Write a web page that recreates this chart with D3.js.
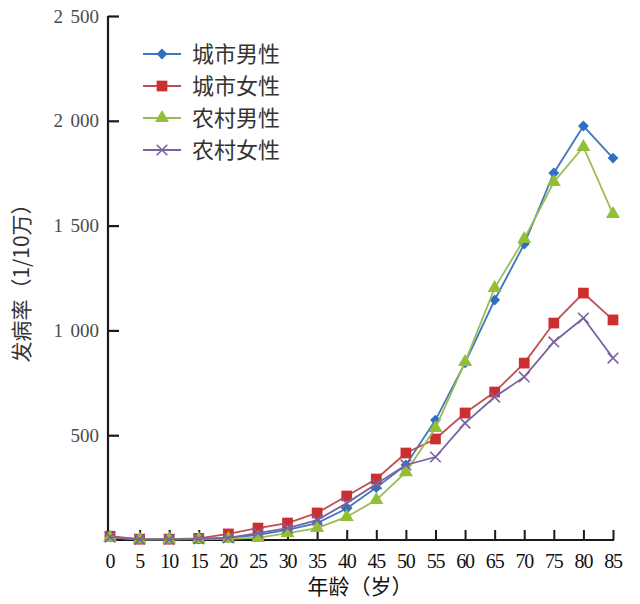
<!DOCTYPE html>
<html><head><meta charset="utf-8">
<script src="https://cdn.jsdelivr.net/npm/d3@7"></script>
<style>html,body{margin:0;padding:0;background:#fff;}</style>
</head><body><svg id="c" width="640" height="604"></svg>
<script>
const ages = [0,5,10,15,20,25,30,35,40,45,50,55,60,65,70,75,80,85];
const urbanMale   = [15,3,3,5,10,24,48,81,150,250,358,572,845,1145,1412,1751,1975,1822];
const urbanFemale = [18,4,4,8,29,57,81,129,210,291,415,482,606,706,844,1035,1178,1050];
const ruralMale   = [12,3,3,4,6,10,33,57,110,191,324,534,849,1202,1436,1708,1875,1555];
const ruralFemale = [14,3,3,5,10,33,57,95,176,267,358,396,558,682,778,945,1059,868];
const seriesNames = ["城市男性","城市女性","农村男性","农村女性"];
const yTicks = [500,1000,1500,2000,2500];
const xTicks = ages;

const svg = d3.select("#c");
const x = d3.scaleLinear().domain([0,85]).range([110,613]);
const y = d3.scaleLinear().domain([0,2500]).range([540,16]);

const series = [
  {name:seriesNames[0], vals:urbanMale,   line:"#3f78bd", fill:"#2f6fbf", sym:d3.symbolDiamond2, size:75},
  {name:seriesNames[1], vals:urbanFemale, line:"#c0504d", fill:"#cc2f2f", sym:d3.symbolSquare, size:115},
  {name:seriesNames[2], vals:ruralMale,   line:"#9bbb59", fill:"#93bf36", sym:d3.symbolTriangle, size:85},
  {name:seriesNames[3], vals:ruralFemale, line:"#7a62a0", fill:"#7a62a0", sym:d3.symbolX, size:75}
];

// axes
const fmt = v => d3.format(",")(v).replace(/,/g, "\u2009\u2009");
const yAxis = d3.axisRight(y).tickValues(yTicks).tickSize(11).tickFormat("");
const gy = svg.append("g").attr("transform","translate(108,0)").call(yAxis);
gy.select(".domain").attr("d","M0,16V541").attr("stroke","#1a1a1a").attr("stroke-width",2.2);
gy.selectAll(".tick line").attr("stroke","#1a1a1a").attr("stroke-width",2.2);
svg.append("g").selectAll("text").data(yTicks).join("text")
  .attr("x",99).attr("y",d=>y(d)).attr("dy","0.35em").attr("text-anchor","end")
  .attr("font-family","Liberation Serif, serif").attr("font-size",19).attr("fill","#4a4a4a")
  .text(fmt);

const xAxis = d3.axisTop(x).tickValues(xTicks.slice(1)).tickSize(10).tickFormat("");
const gx = svg.append("g").attr("transform","translate(0,540)").call(xAxis);
gx.select(".domain").attr("d","M107,0H614").attr("stroke","#1a1a1a").attr("stroke-width",2.2);
gx.selectAll(".tick line").attr("stroke","#1a1a1a").attr("stroke-width",2);
svg.append("g").selectAll("text").data(xTicks).join("text")
  .attr("x",d=>x(d)).attr("y",561).attr("dy","0.35em").attr("text-anchor","middle")
  .attr("font-family","Liberation Serif, serif").attr("font-size",20).attr("fill","#111")
  .attr("letter-spacing",-1.2)
  .text(d=>d);

// axis titles
svg.append("text").attr("x",360).attr("y",594).attr("text-anchor","middle")
  .attr("font-family","Noto Sans CJK SC").attr("font-size",21).attr("fill","#111").text("年龄（岁）");
svg.append("text").attr("transform","translate(29,278) rotate(-90)").attr("text-anchor","middle")
  .attr("font-family","Noto Sans CJK SC").attr("font-size",21).attr("fill","#333").text("发病率（1/10万）");

// lines
const line = d3.line().x((d,i)=>x(ages[i])).y(d=>y(d));
series.forEach(s=>{
  const g = svg.append("g");
  g.append("path").attr("d",line(s.vals)).attr("fill","none").attr("stroke",s.line).attr("stroke-width",1.8);
  const sym = d3.symbol().type(s.sym).size(s.size);
  g.selectAll("path.m").data(s.vals).join("path").attr("class","m")
    .attr("transform",(d,i)=>`translate(${x(ages[i])},${y(d)})`)
    .attr("d",sym())
    .attr("fill", s.sym===d3.symbolX ? "none" : s.fill)
    .attr("stroke", s.sym===d3.symbolX ? s.fill : "none")
    .attr("stroke-width",1.6);
});

// legend
const lg = svg.append("g");
series.forEach((s,i)=>{
  const yy = 54 + i*32;
  lg.append("line").attr("x1",143).attr("x2",181).attr("y1",yy).attr("y2",yy).attr("stroke",s.line).attr("stroke-width",1.8);
  lg.append("path").attr("transform",`translate(162,${yy})`).attr("d",d3.symbol().type(s.sym).size(s.size)())
    .attr("fill", s.sym===d3.symbolX ? "none" : s.fill)
    .attr("stroke", s.sym===d3.symbolX ? s.fill : "none").attr("stroke-width",1.6);
  lg.append("text").attr("x",192).attr("y",yy).attr("dy","0.35em")
    .attr("font-family","Noto Sans CJK SC").attr("font-size",22).attr("fill","#333").text(s.name);
});
</script></body></html>
